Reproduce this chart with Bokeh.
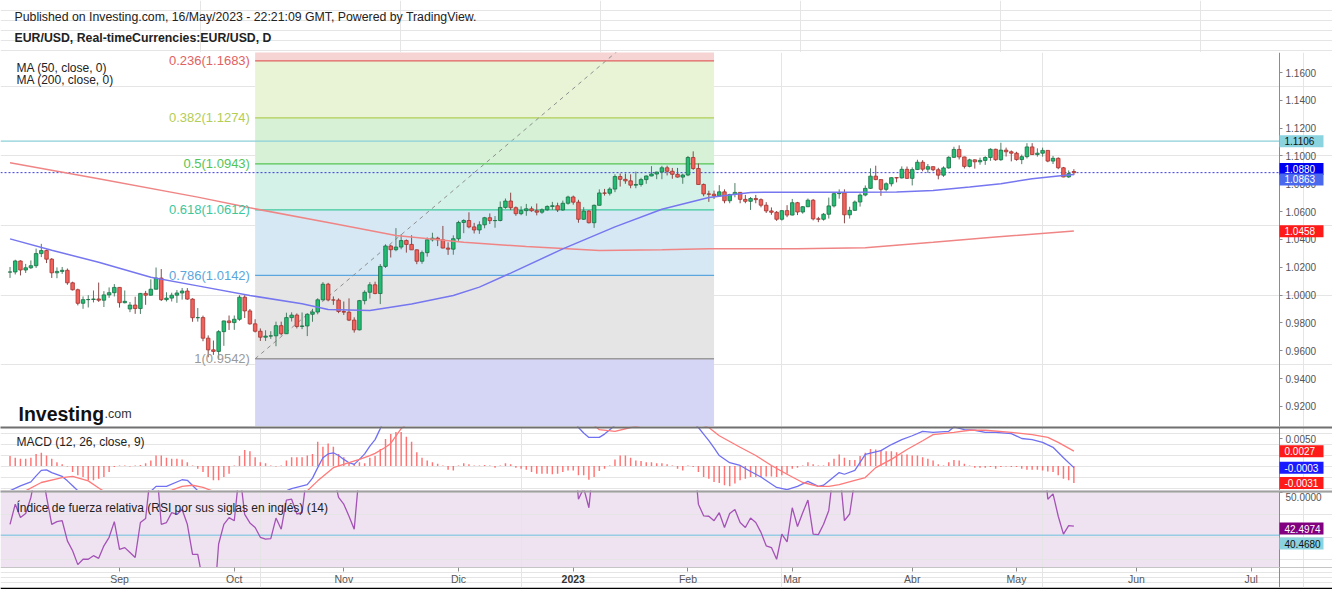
import pandas as pd
from bokeh.plotting import figure
from bokeh.layouts import column
from bokeh.models import Range1d, FixedTicker, NumeralTickFormatter, LinearAxis
from bokeh.embed import file_html
from bokeh.resources import INLINE
from bokeh.core.properties import value

FONT = "Liberation Sans"

# ---------------------------------------------------------------- data
calendar = pd.bdate_range("2022-08-01", "2023-07-31")
POS = {d.strftime("%Y-%m-%d"): i for i, d in enumerate(calendar)}
candle_dates = pd.bdate_range("2022-08-03", "2023-05-16").strftime("%Y-%m-%d").tolist()

opens = [
    1.0165, 1.0166, 1.0245, 1.0180, 1.0196, 1.0211, 1.0298, 1.0320, 1.0258, 1.0160,
    1.0170, 1.0178, 1.0088, 1.0038, 0.9941, 0.9967, 0.9968, 0.9972, 0.9963, 1.0001, 1.0017,
    1.0055, 0.9945, 0.9900, 0.9928, 0.9903, 1.0012, 0.9999, 1.0042, 1.0122, 0.9967,
    0.9978, 0.9999, 1.0015, 1.0029, 0.9971, 0.9837, 0.9838, 0.9690, 0.9606, 0.9595, 0.9737, 0.9814,
    0.9802, 0.9826, 0.9985, 0.9886, 0.9793, 0.9740, 0.9697, 0.9705, 0.9707, 0.9780,
    0.9722, 0.9838, 0.9856, 0.9774, 0.9778, 0.9862, 0.9878, 0.9966, 1.0078, 0.9965, 0.9964,
    0.9882, 0.9877, 0.9820, 0.9750, 0.9960, 1.0020, 1.0074, 1.0011, 1.0206, 1.0353,
    1.0326, 1.0345, 1.0392, 1.0364, 1.0325, 1.0243, 1.0305, 1.0397, 1.0409, 1.0397, 1.0338, 1.0330,
    1.0405, 1.0522, 1.0536, 1.0490, 1.0468, 1.0505, 1.0556, 1.0535, 1.0536, 1.0630,
    1.0676, 1.0628, 1.0585, 1.0607, 1.0620, 1.0606, 1.0596, 1.0613, 1.0637, 1.0642, 1.0612, 1.0660,
    1.0705, 1.0668, 1.0545, 1.0604, 1.0520, 1.0645, 1.0734, 1.0732, 1.0762, 1.0852,
    1.0832, 1.0821, 1.0790, 1.0795, 1.0830, 1.0856, 1.0870, 1.0884, 1.0915, 1.0890, 1.0868, 1.0848,
    1.0863, 1.0989, 1.0910, 1.0795, 1.0727, 1.0725, 1.0713, 1.0742, 1.0678, 1.0723,
    1.0738, 1.0688, 1.0674, 1.0694, 1.0686, 1.0646, 1.0605, 1.0595, 1.0545, 1.0607,
    1.0575, 1.0664, 1.0597, 1.0635, 1.0682, 1.0548, 1.0545, 1.0581, 1.0641, 1.0729,
    1.0735, 1.0577, 1.0609, 1.0669, 1.0719, 1.0767, 1.0855, 1.0830, 1.0760, 1.0800, 1.0844, 1.0842, 1.0904,
    1.0839, 1.0902, 1.0955, 1.0905, 1.0923, 1.0901, 1.0862, 1.0914, 1.0990, 1.1047,
    1.0993, 1.0925, 1.0972, 1.0958, 1.0968, 1.0989, 1.1048, 1.0973, 1.1042, 1.1030,
    1.1020, 1.0974, 1.0995, 1.1065, 1.1010, 1.1020, 1.1040, 1.0963, 1.0983, 1.0915, 1.0849, 1.0888,
]
highs = [
    1.0202, 1.0254, 1.0250, 1.0224, 1.0249, 1.0334, 1.0368, 1.0327, 1.0266, 1.0199,
    1.0202, 1.0191, 1.0096, 1.0046, 0.9990, 0.9999, 1.0033, 1.0090, 1.0028, 1.0055, 1.0079,
    1.0056, 1.0033, 0.9950, 0.9988, 1.0015, 1.0030, 1.0113, 1.0198, 1.0187, 1.0020,
    1.0017, 1.0036, 1.0051, 1.0050, 0.9977, 0.9907, 0.9852, 0.9710, 0.9673, 0.9748, 0.9816, 0.9853,
    0.9853, 0.9999, 0.9999, 0.9900, 0.9826, 0.9760, 0.9747, 0.9740, 0.9809, 0.9809,
    0.9873, 0.9876, 0.9868, 0.9875, 0.9870, 0.9901, 0.9977, 1.0093, 1.0088, 0.9990, 0.9976,
    0.9954, 0.9976, 0.9840, 0.9965, 1.0034, 1.0093, 1.0096, 1.0223, 1.0365, 1.0362,
    1.0481, 1.0437, 1.0400, 1.0430, 1.0328, 1.0320, 1.0414, 1.0448, 1.0419, 1.0497, 1.0379, 1.0429,
    1.0534, 1.0545, 1.0595, 1.0519, 1.0530, 1.0562, 1.0587, 1.0568, 1.0673, 1.0694,
    1.0736, 1.0637, 1.0638, 1.0655, 1.0637, 1.0658, 1.0623, 1.0645, 1.0670, 1.0664, 1.0679, 1.0714,
    1.0715, 1.0685, 1.0632, 1.0610, 1.0651, 1.0760, 1.0763, 1.0775, 1.0868, 1.0874,
    1.0874, 1.0868, 1.0887, 1.0843, 1.0860, 1.0927, 1.0887, 1.0929, 1.0930, 1.0914, 1.0914, 1.0873,
    1.1000, 1.1033, 1.0946, 1.0802, 1.0750, 1.0751, 1.0790, 1.0760, 1.0728, 1.0805,
    1.0741, 1.0720, 1.0705, 1.0720, 1.0695, 1.0668, 1.0630, 1.0604, 1.0611, 1.0646,
    1.0691, 1.0670, 1.0640, 1.0694, 1.0691, 1.0562, 1.0590, 1.0701, 1.0736, 1.0760,
    1.0760, 1.0635, 1.0680, 1.0731, 1.0788, 1.0911, 1.0930, 1.0831, 1.0810, 1.0846, 1.0848, 1.0925, 1.0924,
    1.0918, 1.0973, 1.0970, 1.0942, 1.0925, 1.0915, 1.0925, 1.0998, 1.1066, 1.1076,
    1.0995, 1.0980, 1.0976, 1.0988, 1.0998, 1.1055, 1.1052, 1.1095, 1.1060, 1.1040,
    1.1030, 1.1010, 1.1092, 1.1092, 1.1055, 1.1060, 1.1040, 1.1000, 1.0990, 1.0921, 1.0896, 1.0905,
]
lows = [
    1.0123, 1.0148, 1.0141, 1.0159, 1.0188, 1.0195, 1.0273, 1.0230, 1.0123, 1.0121,
    1.0152, 1.0074, 1.0033, 0.9926, 0.9901, 0.9911, 0.9947, 0.9951, 0.9914, 0.9980, 0.9990,
    0.9910, 0.9940, 0.9877, 0.9865, 0.9864, 0.9930, 0.9996, 1.0040, 0.9957, 0.9954,
    0.9954, 0.9944, 0.9967, 0.9966, 0.9808, 0.9809, 0.9668, 0.9553, 0.9570, 0.9536, 0.9635, 0.9749,
    0.9750, 0.9815, 0.9835, 0.9787, 0.9731, 0.9670, 0.9670, 0.9685, 0.9632, 0.9710,
    0.9720, 0.9810, 0.9760, 0.9755, 0.9705, 0.9808, 0.9862, 0.9960, 0.9955, 0.9930, 0.9870,
    0.9857, 0.9813, 0.9730, 0.9746, 0.9933, 0.9975, 1.0006, 0.9935, 1.0195, 1.0270,
    1.0315, 1.0329, 1.0305, 1.0325, 1.0222, 1.0225, 1.0276, 1.0385, 1.0352, 1.0335, 1.0289, 1.0290,
    1.0390, 1.0445, 1.0480, 1.0443, 1.0440, 1.0480, 1.0511, 1.0484, 1.0530, 1.0620,
    1.0611, 1.0570, 1.0574, 1.0570, 1.0599, 1.0573, 1.0584, 1.0605, 1.0612, 1.0597, 1.0605, 1.0650,
    1.0650, 1.0520, 1.0540, 1.0515, 1.0483, 1.0644, 1.0715, 1.0716, 1.0740, 1.0780,
    1.0800, 1.0768, 1.0768, 1.0780, 1.0800, 1.0854, 1.0833, 1.0833, 1.0860, 1.0836, 1.0845, 1.0800,
    1.0855, 1.0900, 1.0795, 1.0710, 1.0670, 1.0691, 1.0705, 1.0660, 1.0660, 1.0703,
    1.0660, 1.0660, 1.0612, 1.0660, 1.0631, 1.0590, 1.0577, 1.0533, 1.0535, 1.0560,
    1.0573, 1.0575, 1.0585, 1.0632, 1.0537, 1.0524, 1.0535, 1.0550, 1.0630, 1.0693,
    1.0516, 1.0550, 1.0605, 1.0636, 1.0710, 1.0765, 1.0826, 1.0713, 1.0745, 1.0781, 1.0810, 1.0838, 1.0835,
    1.0788, 1.0900, 1.0890, 1.0878, 1.0890, 1.0832, 1.0850, 1.0908, 1.0985, 1.0975,
    1.0910, 1.0918, 1.0909, 1.0937, 1.0936, 1.0965, 1.0965, 1.0965, 1.0996, 1.0961,
    1.0966, 1.0941, 1.0982, 1.1008, 1.0995, 1.0995, 1.0955, 1.0942, 1.0905, 1.0847, 1.0843, 1.0862,
]
closes = [
    1.0166, 1.0245, 1.0180, 1.0196, 1.0211, 1.0298, 1.0320, 1.0258, 1.0160, 1.0170,
    1.0178, 1.0088, 1.0038, 0.9941, 0.9967, 0.9968, 0.9972, 0.9963, 1.0001, 1.0017, 1.0055,
    0.9945, 0.9955, 0.9928, 0.9903, 1.0012, 0.9999, 1.0042, 1.0122, 0.9967, 0.9978,
    0.9999, 1.0015, 1.0029, 0.9971, 0.9837, 0.9838, 0.9690, 0.9606, 0.9595, 0.9737, 0.9814, 0.9802,
    0.9826, 0.9985, 0.9886, 0.9793, 0.9740, 0.9697, 0.9705, 0.9707, 0.9780, 0.9722,
    0.9838, 0.9856, 0.9774, 0.9778, 0.9862, 0.9878, 0.9966, 1.0078, 0.9965, 0.9964, 0.9882,
    0.9877, 0.9820, 0.9750, 0.9960, 1.0020, 1.0074, 1.0011, 1.0206, 1.0353, 1.0326,
    1.0345, 1.0392, 1.0364, 1.0325, 1.0243, 1.0305, 1.0397, 1.0409, 1.0397, 1.0338, 1.0330, 1.0405,
    1.0522, 1.0536, 1.0490, 1.0468, 1.0505, 1.0556, 1.0535, 1.0536, 1.0630, 1.0676,
    1.0628, 1.0585, 1.0607, 1.0620, 1.0606, 1.0596, 1.0613, 1.0637, 1.0642, 1.0612, 1.0660, 1.0705,
    1.0668, 1.0545, 1.0604, 1.0520, 1.0645, 1.0734, 1.0732, 1.0762, 1.0852, 1.0832,
    1.0821, 1.0790, 1.0795, 1.0830, 1.0856, 1.0870, 1.0884, 1.0915, 1.0890, 1.0868, 1.0848, 1.0863,
    1.0989, 1.0910, 1.0795, 1.0727, 1.0725, 1.0713, 1.0742, 1.0678, 1.0723, 1.0738,
    1.0688, 1.0674, 1.0694, 1.0686, 1.0646, 1.0605, 1.0595, 1.0545, 1.0607, 1.0575,
    1.0664, 1.0597, 1.0635, 1.0682, 1.0548, 1.0545, 1.0581, 1.0641, 1.0729, 1.0735,
    1.0577, 1.0609, 1.0669, 1.0719, 1.0767, 1.0855, 1.0830, 1.0760, 1.0800, 1.0844, 1.0842, 1.0904, 1.0839,
    1.0902, 1.0955, 1.0905, 1.0923, 1.0901, 1.0862, 1.0914, 1.0990, 1.1047, 1.0993,
    1.0925, 1.0972, 1.0958, 1.0968, 1.0989, 1.1048, 1.0973, 1.1042, 1.1030, 1.1020,
    1.0974, 1.0995, 1.1065, 1.1010, 1.1020, 1.1040, 1.0963, 1.0983, 1.0915, 1.0849, 1.0873, 1.0880,
]

ma50_dates = ["2022-08-03", "2022-08-15", "2022-08-26", "2022-09-09", "2022-09-22", "2022-10-06",
              "2022-10-20", "2022-10-27", "2022-11-08", "2022-11-18", "2022-11-30", "2022-12-07",
              "2022-12-15", "2022-12-29", "2023-01-12", "2023-01-25", "2023-02-07", "2023-02-17",
              "2023-03-03", "2023-03-16", "2023-03-29", "2023-04-07", "2023-04-18", "2023-04-26",
              "2023-05-04", "2023-05-11", "2023-05-16"]
ma50_values = [1.0404, 1.0322, 1.0236, 1.0128, 1.0066, 0.9997, 0.9937, 0.9896, 0.9889, 0.9935,
               0.9997, 1.0057, 1.0158, 1.0332, 1.0490, 1.0617, 1.0702, 1.0738, 1.0740, 1.0740,
               1.0741, 1.0752, 1.0776, 1.0800, 1.0836, 1.0856, 1.0866]

ma200_dates = ["2022-08-03", "2022-08-26", "2022-09-22", "2022-10-06", "2022-10-28", "2022-11-15",
               "2022-12-02", "2022-12-20", "2023-01-09", "2023-01-25", "2023-02-07", "2023-03-02",
               "2023-03-21", "2023-04-07", "2023-04-25", "2023-05-16"]
ma200_values = [1.0951, 1.0836, 1.0704, 1.0627, 1.0514, 1.0428, 1.0380, 1.0349, 1.0320, 1.0325,
                1.0333, 1.0333, 1.0340, 1.0380, 1.0418, 1.0460]

macd_dates = ["2022-08-03", "2022-08-05", "2022-08-09", "2022-08-10", "2022-08-11", "2022-08-12",
              "2022-08-15", "2022-08-17", "2022-08-18", "2022-08-19", "2022-08-22", "2022-08-25",
              "2022-08-31", "2022-09-06", "2022-09-09", "2022-09-12", "2022-09-14", "2022-09-19",
              "2022-09-20", "2022-09-22", "2022-09-26", "2022-09-28", "2022-10-03", "2022-10-07",
              "2022-10-12", "2022-10-17", "2022-10-18", "2022-10-21", "2022-10-24", "2022-10-25",
              "2022-10-26", "2022-10-27", "2022-10-28", "2022-10-31", "2022-11-01", "2022-11-02",
              "2022-11-03", "2022-11-04", "2022-11-07", "2022-11-08", "2022-11-09", "2022-11-10",
              "2022-11-11", "2022-11-15", "2022-11-21", "2022-11-28", "2022-12-05", "2022-12-12",
              "2022-12-19", "2022-12-26", "2022-12-29", "2023-01-02", "2023-01-03", "2023-01-04",
              "2023-01-05", "2023-01-09", "2023-01-10", "2023-01-11", "2023-01-12", "2023-01-16",
              "2023-01-23", "2023-01-30", "2023-02-01", "2023-02-02", "2023-02-03", "2023-02-06",
              "2023-02-07", "2023-02-08", "2023-02-09", "2023-02-13", "2023-02-15", "2023-02-17",
              "2023-02-21", "2023-02-24", "2023-02-28", "2023-03-02", "2023-03-06", "2023-03-08",
              "2023-03-09", "2023-03-14", "2023-03-15", "2023-03-17", "2023-03-21", "2023-03-24",
              "2023-03-28", "2023-03-30", "2023-04-03", "2023-04-05", "2023-04-07", "2023-04-12",
              "2023-04-13", "2023-04-17", "2023-04-19", "2023-04-21", "2023-04-25", "2023-04-28",
              "2023-05-02", "2023-05-04", "2023-05-08", "2023-05-10", "2023-05-12", "2023-05-16"]
macd_values = [-0.0045, -0.0036, -0.0029, -0.0018, -0.0008, -0.0007, -0.0012, -0.0019, -0.0027, -0.0036,
               -0.0045, -0.0058, -0.0062, -0.0058, -0.0046, -0.0037, -0.0037, -0.0025, -0.0026, -0.0045,
               -0.0068, -0.0085, -0.0085, -0.0078, -0.0065, -0.0045, -0.0041, -0.0034, -0.0022, -0.0003,
               0.0015, 0.0022, 0.0024, 0.0019, 0.0012, 0.0006, 0.0003, 0.0012, 0.0022, 0.0036,
               0.0048, 0.0068, 0.0090, 0.0120, 0.0145, 0.0150, 0.0150, 0.0145, 0.0130, 0.0115,
               0.0100, 0.0085, 0.0070, 0.0060, 0.0052, 0.0052, 0.0058, 0.0066, 0.0074, 0.0085,
               0.0092, 0.0090, 0.0085, 0.0078, 0.0070, 0.0058, 0.0046, 0.0033, 0.0019, 0.0006,
               0.0001, -0.0010, -0.0020, -0.0039, -0.0043, -0.0037, -0.0028, -0.0037, -0.0035, -0.0012,
               -0.0015, -0.0008, 0.0021, 0.0028, 0.0039, 0.0048, 0.0055, 0.0063, 0.0061, 0.0063,
               0.0071, 0.0066, 0.0065, 0.0061, 0.0061, 0.0059, 0.0050, 0.0048, 0.0043, 0.0034,
               0.0015, -0.0003]

signal_dates = ["2022-08-03", "2022-08-08", "2022-08-11", "2022-08-17", "2022-08-19", "2022-08-24",
                "2022-08-26", "2022-08-29", "2022-09-02", "2022-09-08", "2022-09-15", "2022-09-19",
                "2022-09-21", "2022-09-23", "2022-09-27", "2022-09-30", "2022-10-05", "2022-10-10",
                "2022-10-13", "2022-10-18", "2022-10-21", "2022-10-25", "2022-10-28", "2022-11-02",
                "2022-11-04", "2022-11-08", "2022-11-09", "2022-11-11", "2022-11-14", "2022-11-16",
                "2022-11-21", "2022-11-28", "2022-12-05", "2022-12-12", "2022-12-19", "2022-12-26",
                "2023-01-02", "2023-01-05", "2023-01-09", "2023-01-12", "2023-01-17", "2023-01-23",
                "2023-01-30", "2023-02-02", "2023-02-07", "2023-02-09", "2023-02-15", "2023-02-20",
                "2023-02-23", "2023-02-28", "2023-03-03", "2023-03-08", "2023-03-10", "2023-03-14",
                "2023-03-17", "2023-03-21", "2023-03-23", "2023-03-28", "2023-03-31", "2023-04-05",
                "2023-04-07", "2023-04-13", "2023-04-18", "2023-04-21", "2023-04-28", "2023-05-04",
                "2023-05-09", "2023-05-11", "2023-05-16"]
signal_values = [-0.0056, -0.0045, -0.0030, -0.0021, -0.0019, -0.0027, -0.0040, -0.0046, -0.0058, -0.0054,
                 -0.0044, -0.0037, -0.0035, -0.0039, -0.0046, -0.0060, -0.0070, -0.0073, -0.0067, -0.0056,
                 -0.0045, -0.0027, -0.0003, 0.0006, 0.0012, 0.0019, 0.0023, 0.0034, 0.0041, 0.0068,
                 0.0090, 0.0120, 0.0138, 0.0142, 0.0135, 0.0122, 0.0100, 0.0082, 0.0066, 0.0063,
                 0.0070, 0.0078, 0.0083, 0.0080, 0.0070, 0.0055, 0.0034, 0.0019, 0.0001, -0.0015,
                 -0.0030, -0.0037, -0.0037, -0.0034, -0.0026, -0.0021, -0.0003, 0.0012, 0.0030, 0.0046,
                 0.0057, 0.0061, 0.0065, 0.0065, 0.0061, 0.0057, 0.0052, 0.0043, 0.0027]

hist_values = [
    0.0018, 0.0015, 0.0013, 0.0013, 0.0015, 0.0022, 0.0024, 0.0019, 0.0013, 0.0007,
    0.0003, -0.0001, -0.0011, -0.0017, -0.0020, -0.0026, -0.0026, -0.0023, -0.0020, -0.0011,
    -0.0002, 0.0001, 0.0001, -0.0001, 0.0001, 0.0002, 0.0005, 0.0010, 0.0019, 0.0019,
    0.0015, 0.0013, 0.0013, 0.0012, 0.0007, 0.0001, -0.0005, -0.0011, -0.0020, -0.0026,
    -0.0026, -0.0020, -0.0014, 0.0001, 0.0018, 0.0029, 0.0027, 0.0016, 0.0007, 0.0005,
    0.0001, -0.0001, 0.0001, 0.0010, 0.0016, 0.0016, 0.0016, 0.0019, 0.0022, 0.0044,
    0.0035, 0.0041, 0.0035, 0.0022, 0.0016, 0.0007, 0.0004, 0.0007, 0.0005, 0.0015,
    0.0018, 0.0031, 0.0049, 0.0058, 0.0062, 0.0062, 0.0053, 0.0044, 0.0025, 0.0015,
    0.0010, 0.0007, 0.0004, 0.0001, -0.0007, -0.0008, 0.0001, 0.0005, 0.0003, 0.0001,
    0.0001, 0.0002, 0.0001, -0.0003, 0.0001, 0.0005, 0.0003, -0.0003, -0.0005, -0.0007,
    -0.0011, -0.0014, -0.0014, -0.0014, -0.0015, -0.0014, -0.0011, -0.0008, -0.0008, -0.0017,
    -0.0017, -0.0025, -0.0020, -0.0009, -0.0005, 0.0001, 0.0012, 0.0019, 0.0019, 0.0015,
    0.0010, 0.0009, 0.0007, 0.0007, 0.0005, 0.0005, 0.0003, 0.0001, -0.0005, -0.0008,
    0.0001, -0.0002, -0.0011, -0.0020, -0.0023, -0.0029, -0.0031, -0.0035, -0.0037, -0.0032,
    -0.0026, -0.0023, -0.0020, -0.0020, -0.0020, -0.0019, -0.0019, -0.0020, -0.0017, -0.0014,
    -0.0005, -0.0003, 0.0001, 0.0007, 0.0003, 0.0001, 0.0001, 0.0007, 0.0013, 0.0021,
    0.0015, 0.0011, 0.0011, 0.0018, 0.0024, 0.0031, 0.0030, 0.0029, 0.0027, 0.0027,
    0.0025, 0.0021, 0.0021, 0.0019, 0.0019, 0.0016, 0.0013, 0.0010, 0.0003, 0.0001,
    0.0007, 0.0011, 0.0010, 0.0004, 0.0001, -0.0003, -0.0003, -0.0003, -0.0002, -0.0005,
    -0.0002, -0.0001, -0.0002, -0.0002, -0.0005, -0.0007, -0.0007, -0.0007, -0.0008, -0.0010,
    -0.0011, -0.0017, -0.0023, -0.0026, -0.0031,
]

rsi_values = [
    42.9, 47.4, 44.4, 45.3, 48.9, 55.0, 56.0, 49.0, 42.9, 43.5,
    43.7, 39.2, 37.0, 33.9, 35.1, 35.1, 35.9, 35.3, 38.1, 40.0,
    43.5, 37.3, 37.7, 36.6, 35.5, 43.3, 44.2, 55.0, 57.0, 42.9,
    43.3, 45.5, 45.1, 46.2, 42.9, 36.2, 36.2, 30.0, 25.0, 23.0,
    38.5, 42.9, 44.4, 43.7, 55.0, 45.1, 43.2, 42.2, 40.0, 39.6,
    39.7, 44.3, 41.8, 48.3, 48.5, 45.2, 45.5, 55.0, 58.0, 62.0,
    58.0, 58.0, 54.0, 48.9, 47.4, 44.7, 41.8, 55.0, 58.0, 58.0,
    60.0, 68.0, 72.0, 70.0, 71.0, 69.0, 67.0, 62.0, 64.0, 67.0,
    67.0, 66.0, 62.0, 61.0, 66.0, 70.0, 69.0, 64.0, 62.0, 64.0,
    66.0, 64.0, 63.0, 67.0, 68.0, 64.0, 61.0, 62.0, 63.0, 62.0,
    61.0, 62.0, 63.0, 64.0, 62.0, 65.0, 66.0, 61.0, 61.0, 48.5,
    51.0, 46.6, 58.0, 63.0, 63.0, 64.0, 68.0, 66.0, 65.0, 62.0,
    62.0, 64.0, 66.0, 67.0, 67.0, 69.0, 66.0, 64.0, 62.0, 63.0,
    70.0, 60.0, 47.4, 44.8, 44.7, 43.7, 45.5, 42.2, 45.3, 46.2,
    43.3, 42.2, 44.3, 43.3, 41.1, 38.1, 37.7, 35.1, 40.7, 39.0,
    46.6, 42.4, 45.5, 48.3, 40.7, 40.6, 42.9, 46.0, 56.0, 56.0,
    43.7, 45.2, 53.0, 56.0, 58.0, 62.0, 66.0, 64.0, 60.0, 62.0,
    64.0, 64.0, 67.0, 62.0, 65.0, 68.0, 64.0, 65.0, 64.0, 61.0,
    66.0, 71.0, 65.0, 59.0, 63.0, 62.0, 62.0, 63.0, 67.0, 58.0,
    64.0, 62.0, 63.0, 58.0, 60.0, 66.0, 60.0, 61.0, 61.0, 48.5,
    49.7, 44.7, 40.7, 42.6, 42.5,
]

fib_ratios = [0, 0.236, 0.382, 0.5, 0.618, 0.786, 1, 1.618]
fib_prices = [1.2344, 1.1683, 1.1274, 1.0943, 1.0612, 1.0142, 0.9542, 0.7810]
fib_start, fib_end = "2022-10-07", "2023-02-08"

hline_price = 1.1106
last_price = 1.0880
ma50_last = 1.0863
ma200_last = 1.0458
macd_last, signal_last, hist_last = -0.0003, 0.0027, -0.0031
rsi_last = 42.4974
rsi_ref = 40.468

price_ticks = [0.92, 0.94, 0.96, 0.98, 1.00, 1.02, 1.04, 1.06, 1.08, 1.10, 1.12, 1.14, 1.16]
macd_ticks = [0.005]
rsi_ticks = [50]
month_starts = ["2022-09-01", "2022-10-03", "2022-11-01", "2022-12-01", "2023-01-02", "2023-02-01",
                "2023-03-01", "2023-04-03", "2023-05-01", "2023-06-01", "2023-07-03"]
month_labels = ["Sep", "Oct", "Nov", "Dic", "2023", "Feb", "Mar", "Abr", "May", "Jun", "Jul"]

# ---------------------------------------------------------------- geometry
W = 1332
FRAME_W = 1279            # right edge of the plotting area, the price scale lies to its right
BAR_PX = 5.215            # pixels per bar
X_ORIGIN = -0.9           # pixel of bar index 0

def bar_at(px):
    return (px - X_ORIGIN) / BAR_PX

x_range = Range1d(bar_at(0), bar_at(W))
X_LEFT, X_EDGE = bar_at(0), bar_at(FRAME_W)

class Scale:
    def __init__(self, ref_val, ref_row, px_per_unit):
        self.v, self.r, self.k = ref_val, ref_row, px_per_unit
    def val(self, row):
        return self.v - (row - self.r) / self.k
    def row(self, v):
        return self.r + (self.v - v) * self.k

PRICE = Scale(1.16, 72.0, 1391.0)
MACD = Scale(0.0, 465.5, 5500.0)
RSI = Scale(50.0, 492.0, 4.48)

MAIN_TOP, MAIN_BOT = 52, 426
MACD_TOP, MACD_BOT = 426, 490
RSI_TOP, RSI_BOT = 490, 567
XAX_H = 20
TIME = Scale(XAX_H, 0.0, 1.0)   # rows below the RSI panel, counted downward


def txt(fig, x, y, s, size="12px", color="#222222", style="normal", align="left",
        baseline="middle", level="glyph"):
    fig.text(x=[x], y=[y], text=[s], text_font=value(FONT), text_font_size=size,
             text_color=color, text_font_style=style, text_align=align,
             text_baseline=baseline, level=level)


def panel(top, bot, sc, ticks, overrides=None):
    f = figure(width=W, height=bot - top, x_range=x_range,
               y_range=Range1d(sc.val(bot), sc.val(top)),
               output_backend="svg", toolbar_location=None, tools="",
               x_axis_location=None, y_axis_location=None, min_border=0,
               outline_line_color=None, background_fill_color="white",
               border_fill_color="white")
    ax = LinearAxis(fixed_location=X_EDGE, ticker=FixedTicker(ticks=ticks, minor_ticks=[]),
                    formatter=NumeralTickFormatter(format="0.0000"))
    ax.axis_line_color = "#8c8c8c"
    ax.major_tick_line_color = "#8c8c8c"
    ax.minor_tick_line_color = None
    ax.minor_tick_out = 0
    ax.major_tick_out = 3
    ax.major_tick_in = 0
    ax.major_label_standoff = 3
    ax.major_label_text_color = "#555555"
    ax.major_label_text_font = FONT
    ax.major_label_text_font_size = "10px"
    if overrides:
        ax.major_label_overrides = overrides
    f.add_layout(ax, "right")
    return f


def tag(fig, sc, v, text, bg, fg, shift_px=0.0):
    c = sc.row(v) + shift_px
    fig.quad(left=bar_at(FRAME_W), right=bar_at(FRAME_W + 44), top=sc.val(c - 6),
             bottom=sc.val(c + 6), fill_color=bg, line_color=None, level="overlay")
    txt(fig, bar_at(FRAME_W + 5), sc.val(c), text, size="10px", color=fg, level="overlay")


def separator(fig, sc, top, color):
    fig.quad(left=x_range.start, right=x_range.end, top=sc.val(top), bottom=sc.val(top + 2),
             fill_color=color, line_color=None, level="overlay")

# ---------------------------------------------------------------- header
hdr = figure(width=W, height=MAIN_TOP, x_range=Range1d(0, W), y_range=Range1d(MAIN_TOP, 0),
             output_backend="svg", toolbar_location=None, tools="", x_axis_location=None,
             y_axis_location=None, min_border=0, outline_line_color=None)
txt(hdr, 14, 16, "Published on Investing.com, 16/May/2023 - 22:21:09 GMT, Powered by TradingView.",
    size="12.3px")
txt(hdr, 14, 37, "EUR/USD, Real-timeCurrencies:EUR/USD, D", size="12.3px", style="bold")

# ---------------------------------------------------------------- main panel
main = panel(MAIN_TOP, MAIN_BOT, PRICE, price_ticks)

xs, xe = POS[fib_start], POS[fib_end]
zone_colors = ["#f6d4d4", "#e9f4d7", "#d6f1d6", "#d4f2e7", "#d6e8f4", "#e5e5e5", "#d5d5f6"]
level_colors = ["#999999", "#e06262", "#b3cd55", "#55c455", "#3cc79c", "#5ba6dc", "#9a9a9a", "#6b6bea"]
main.quad(left=xs, right=xe, top=fib_prices[:-1], bottom=fib_prices[1:],
          fill_color=zone_colors, line_color=None)
main.segment(x0=xs, x1=xe, y0=fib_prices, y1=fib_prices, line_color=level_colors, line_width=1.3)
main.line(x=[xs, xe], y=[fib_prices[6], fib_prices[0]], line_color="#8f8f8f",
          line_dash="4 4", line_width=1)

main.segment(x0=X_LEFT, x1=X_EDGE, y0=hline_price, y1=hline_price, line_color="#8ccfd8",
             line_width=1.2)
main.segment(x0=X_LEFT, x1=X_EDGE, y0=last_price, y1=last_price, line_color="#3a3ad8",
             line_dash="2 2", line_width=1)

idx = [POS[d] for d in candle_dates]
up = [c >= o for o, c in zip(opens, closes)]
body_top = [max(o, c) for o, c in zip(opens, closes)]
body_bot = [min(o, c) for o, c in zip(opens, closes)]
wick_col = ["#4f7f66" if u else "#8a4848" for u in up]
fill_col = ["#22bd72" if u else "#f2625c" for u in up]
edge_col = ["#1b6f45" if u else "#a3322d" for u in up]
main.segment(x0=idx, x1=idx, y0=lows, y1=highs, line_color=wick_col, line_width=1)
main.vbar(x=idx, width=0.68, top=body_top, bottom=body_bot, fill_color=fill_col,
          line_color=edge_col, line_width=0.8)

main.line(x=[POS[d] for d in ma200_dates], y=ma200_values, line_color="#f08585", line_width=1.5)
main.line(x=[POS[d] for d in ma50_dates], y=ma50_values, line_color="#7676f0", line_width=1.5)

lo, hi = PRICE.val(MAIN_BOT), PRICE.val(MAIN_TOP)
for r, p, col in zip(fib_ratios, fib_prices, level_colors):
    if lo < p < hi:
        txt(main, xs - 1.0, p, f"{r:g}({p:.4f})", size="13px", color=col, align="right")

txt(main, bar_at(16), PRICE.val(67), "MA (50, close, 0)")
txt(main, bar_at(16), PRICE.val(79), "MA (200, close, 0)")
txt(main, bar_at(18), PRICE.val(413), "Investing", size="19.5px", color="#111111", style="bold",
    baseline="alphabetic")
txt(main, bar_at(104), PRICE.val(413), ".com", size="12.5px", color="#333333",
    baseline="alphabetic")

tag(main, PRICE, hline_price, f"{hline_price:.4f}", "#8ad3df", "#111111")
tag(main, PRICE, last_price, f"{last_price:.4f}", "#0000f0", "white", shift_px=-3.7)
tag(main, PRICE, ma50_last, f"{ma50_last:.4f}", "#4a68ee", "white", shift_px=4.4)
tag(main, PRICE, ma200_last, f"{ma200_last:.4f}", "#ff1a1a", "white")

# ---------------------------------------------------------------- MACD panel
macd = panel(MACD_TOP, MACD_BOT, MACD, macd_ticks)
macd.vbar(x=idx, width=0.28, top=hist_values, bottom=0, fill_color="#ff5c5c",
          line_color=None, fill_alpha=0.85)
macd.line(x=[POS[d] for d in macd_dates], y=macd_values, line_color="#7070f2", line_width=1.3)
macd.line(x=[POS[d] for d in signal_dates], y=signal_values, line_color="#ff7a7a", line_width=1.3)
txt(macd, bar_at(16), MACD.val(441), "MACD (12, 26, close, 9)")
tag(macd, MACD, signal_last, f"{signal_last:.4f}", "#ff1a1a", "white")
tag(macd, MACD, macd_last, f"{macd_last:.4f}", "#1a1aff", "white")
tag(macd, MACD, hist_last, f"{hist_last:.4f}", "#ff1a1a", "white")
separator(macd, MACD, MACD_TOP, "#707070")

# ---------------------------------------------------------------- RSI panel
rsi = panel(RSI_TOP, RSI_BOT, RSI, rsi_ticks, overrides={t: "" for t in rsi_ticks})
rsi.quad(left=X_LEFT, right=X_EDGE, bottom=30, top=70, fill_color="#efe3f1",
         line_color=None, level="underlay")
rsi.segment(x0=X_LEFT, x1=X_EDGE, y0=rsi_ref, y1=rsi_ref, line_color="#98cbe4", line_width=1.5)
rsi.line(x=idx, y=rsi_values, line_color="#a452b6", line_width=1.3)
for t in rsi_ticks:
    txt(rsi, bar_at(FRAME_W + 6), RSI.val(RSI.row(t) + 4), f"{t:.4f}", size="10px",
        color="#555555", level="overlay")
txt(rsi, bar_at(16), RSI.val(507), "Índice de fuerza relativa (RSI por sus siglas en inglés) (14)")
tag(rsi, RSI, rsi_last, f"{rsi_last:.4f}", "#800080", "white", shift_px=2.4)
tag(rsi, RSI, rsi_ref, f"{rsi_ref:.4f}", "#8ad3df", "#111111", shift_px=8.3)
separator(rsi, RSI, RSI_TOP, "#a0a0a0")

# ---------------------------------------------------------------- time axis (+ 2px black foot)
xfig = figure(width=W, height=XAX_H + 2, x_range=x_range, y_range=Range1d(0, XAX_H),
              output_backend="svg", toolbar_location=None, tools="", x_axis_location=None,
              y_axis_location=None, min_border=0, min_border_bottom=2,
              outline_line_color=None, background_fill_color="white",
              border_fill_color="#000000")
month_pos = [POS[d] for d in month_starts]
xa = LinearAxis(fixed_location=TIME.val(0), ticker=FixedTicker(ticks=month_pos, minor_ticks=[]))
xa.major_label_overrides = {p: ("" if lab == "2023" else lab) for p, lab in zip(month_pos, month_labels)}
xa.axis_line_color = "#8c8c8c"
xa.major_tick_line_color = "#8c8c8c"
xa.minor_tick_line_color = None
xa.minor_tick_out = 0
xa.major_tick_out = 4
xa.major_tick_in = 0
xa.major_label_standoff = 1
xa.major_label_text_color = "#555555"
xa.major_label_text_font = FONT
xa.major_label_text_font_size = "10.5px"
xfig.add_layout(xa, "below")
for p, lab in zip(month_pos, month_labels):
    if lab == "2023":
        txt(xfig, p, TIME.val(11), lab, size="10.5px", color="#333333", style="bold",
            align="center")
xfig.segment(x0=[X_EDGE], x1=[X_EDGE], y0=[TIME.val(0)], y1=[TIME.val(XAX_H)],
             line_color="#8c8c8c", line_width=1)

layout = column(hdr, main, macd, rsi, xfig, spacing=0)
open("out.html", "w").write(file_html(layout, INLINE))
